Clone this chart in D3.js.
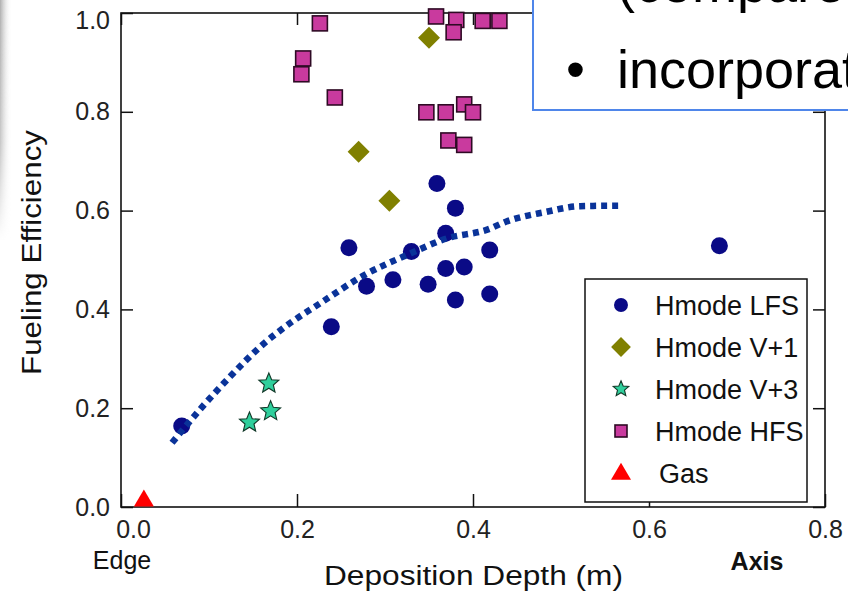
<!DOCTYPE html>
<html>
<head>
<meta charset="utf-8">
<script src="https://cdn.jsdelivr.net/npm/d3@7"></script>
<style>
  html, body { margin: 0; padding: 0; background: #fff; }
  svg { display: block; }
  text { font-family: "Liberation Sans", Arial, Helvetica, sans-serif; }
</style>
</head>
<body>
<svg id="chart" width="848" height="592"></svg>
<script>
// Fueling efficiency vs. pellet deposition depth

const xTicks = [0.0, 0.2, 0.4, 0.6, 0.8];
const yTicks = [0.0, 0.2, 0.4, 0.6, 0.8, 1.0];

// Hmode LFS (navy circles)
const lfsX = [0.359, 0.380, 0.259, 0.369, 0.330, 0.419, 0.369, 0.390, 0.309, 0.279, 0.349, 0.380, 0.419, 0.239, 0.069, 0.680];
const lfsY = [0.655, 0.605, 0.525, 0.554, 0.517, 0.520, 0.483, 0.486, 0.460, 0.447, 0.451, 0.419, 0.431, 0.365, 0.164, 0.529];

// Hmode V+1 (olive diamonds)
const v1X = [0.350, 0.270, 0.305];
const v1Y = [0.950, 0.719, 0.620];

// Hmode V+3 (green stars)
const v3X = [0.168, 0.170, 0.146];
const v3Y = [0.250, 0.194, 0.171];

// Hmode HFS (magenta squares)
const hfsX = [0.226, 0.207, 0.205, 0.243, 0.358, 0.381, 0.378, 0.411, 0.430, 0.347, 0.369, 0.390, 0.400, 0.372, 0.390];
const hfsY = [0.979, 0.908, 0.876, 0.829, 0.993, 0.986, 0.961, 0.984, 0.984, 0.799, 0.799, 0.815, 0.799, 0.742, 0.733];

// Gas puff (red triangle)
const gasX = [0.026];
const gasY = [0.015];

// Trend curve through the LFS data
const fitX = [0.058, 0.090, 0.124, 0.158, 0.192, 0.226, 0.275, 0.330, 0.369, 0.417, 0.438, 0.482, 0.522, 0.565];
const fitY = [0.130, 0.198, 0.264, 0.324, 0.372, 0.412, 0.468, 0.514, 0.543, 0.562, 0.578, 0.597, 0.609, 0.610];

const legendLabels = ["Hmode LFS", "Hmode V+1", "Hmode V+3", "Hmode HFS", "Gas"];

const zip = (xs, ys) => xs.map((v, i) => ({x: v, y: ys[i]}));

const svg = d3.select("#chart");
const defs = svg.append("defs");

// soft grey shading along the left edge
const gh = defs.append("linearGradient").attr("id", "edgeH").attr("x1", 0).attr("x2", 1).attr("y1", 0).attr("y2", 0);
gh.append("stop").attr("offset", "0%").attr("stop-color", "#9a9a9a").attr("stop-opacity", 0.8);
gh.append("stop").attr("offset", "100%").attr("stop-color", "#ffffff").attr("stop-opacity", 0);
const gv = defs.append("linearGradient").attr("id", "edgeV").attr("x1", 0).attr("x2", 0).attr("y1", 0).attr("y2", 1);
gv.append("stop").attr("offset", "0%").attr("stop-color", "#fff").attr("stop-opacity", 1);
gv.append("stop").attr("offset", "60%").attr("stop-color", "#fff").attr("stop-opacity", 0.7);
gv.append("stop").attr("offset", "100%").attr("stop-color", "#fff").attr("stop-opacity", 0);
defs.append("mask").attr("id", "edgeMask")
  .append("rect").attr("x", 0).attr("y", 0).attr("width", 12).attr("height", 240).attr("fill", "url(#edgeV)");
svg.append("rect").attr("x", 0).attr("y", 0).attr("width", 12).attr("height", 240)
  .attr("fill", "url(#edgeH)").attr("mask", "url(#edgeMask)");

const x = d3.scaleLinear().domain([0, 0.8]).range([121, 825]);
const y = d3.scaleLinear().domain([0, 1]).range([507, 13]);

const fmt = d3.format(".1f");

// axes with inward ticks
const gLeft = svg.append("g").attr("transform", `translate(${x(0)},0)`)
  .call(d3.axisLeft(y).tickValues(yTicks).tickFormat(fmt).tickSize(-12).tickPadding(11));
const gBottom = svg.append("g").attr("transform", `translate(0,${y(0)})`)
  .call(d3.axisBottom(x).tickValues(xTicks).tickFormat(fmt).tickSize(-13).tickPadding(13));
const gTop = svg.append("g").attr("transform", `translate(0,${y(1)})`)
  .call(d3.axisTop(x).tickValues(xTicks).tickFormat("").tickSize(-12));
const gRight = svg.append("g").attr("transform", `translate(${x(0.8)},0)`)
  .call(d3.axisRight(y).tickValues(yTicks).tickFormat("").tickSize(-12));

[gLeft, gBottom, gTop, gRight].forEach(g => {
  g.select(".domain").remove();
  g.selectAll(".tick line").attr("stroke", "#111").attr("stroke-width", 1.5);
  g.selectAll(".tick text").attr("fill", "#222").attr("font-size", 25)
    .style("font-family", "'Liberation Sans', Arial, sans-serif");
});
// the corner labels sit slightly inside the frame
gBottom.selectAll(".tick").filter(d => d === 0).select("text").attr("dx", 12);
gLeft.selectAll(".tick").filter(d => d === 1).select("text").attr("dy", "0.6em");

// plot frame
svg.append("rect")
  .attr("x", x(0)).attr("y", y(1))
  .attr("width", x(0.8) - x(0)).attr("height", y(0) - y(1))
  .attr("fill", "none").attr("stroke", "#111").attr("stroke-width", 1.6);

// axis titles
svg.append("text").attr("x", 122).attr("y", 569).attr("text-anchor", "middle")
  .attr("font-size", 25).attr("fill", "#111").text("Edge");
svg.append("text").attr("x", 757).attr("y", 570).attr("text-anchor", "middle")
  .attr("font-size", 25).attr("font-weight", "bold").attr("fill", "#111").text("Axis");
svg.append("text").attr("x", 324).attr("y", 585)
  .attr("font-size", 27).attr("fill", "#111")
  .attr("textLength", 299).attr("lengthAdjust", "spacingAndGlyphs")
  .text("Deposition Depth (m)");
svg.append("text").attr("transform", "translate(41,375) rotate(-90)")
  .attr("font-size", 27).attr("fill", "#111")
  .attr("textLength", 245).attr("lengthAdjust", "spacingAndGlyphs")
  .text("Fueling Efficiency");

// marker shapes
const starPath = (r) => {
  const pts = [];
  for (let i = 0; i < 10; i++) {
    const a = -Math.PI / 2 + i * Math.PI / 5;
    const rr = i % 2 === 0 ? r : r * 0.45;
    pts.push([rr * Math.cos(a), rr * Math.sin(a)]);
  }
  return "M" + pts.map(p => p.join(",")).join("L") + "Z";
};
const triPath = (w, h) => `M0,${-h * 0.6}L${w / 2},${h * 0.4}L${-w / 2},${h * 0.4}Z`;
const diamondPath = (r) => `M0,${-r}L${r},0L0,${r}L${-r},0Z`;

const marks = {
  lfs: (g, s) => g.append("circle").attr("r", 8.5 * s).attr("fill", "#0a0a86"),
  v1: (g, s) => g.append("path").attr("d", diamondPath(11 * s)).attr("fill", "#808000"),
  v3: (g, s) => g.append("path").attr("d", starPath(10.5 * s)).attr("fill", "#2fcf9c")
    .attr("stroke", "#123828").attr("stroke-width", 1.1),
  hfs: (g, s) => g.append("rect").attr("x", -7.5 * s).attr("y", -7.5 * s)
    .attr("width", 15 * s).attr("height", 15 * s).attr("fill", "#c93a9e")
    .attr("stroke", "#2e0a24").attr("stroke-width", 1.6),
  gas: (g, s) => g.append("path").attr("d", triPath(20 * s, 17 * s)).attr("fill", "#ff0000")
};

function drawSeries(data, kind) {
  const g = svg.append("g");
  data.forEach(d => {
    const m = g.append("g").attr("transform", `translate(${x(d.x)},${y(d.y)})`);
    marks[kind](m, 1);
  });
}

drawSeries(zip(lfsX, lfsY), "lfs");
drawSeries(zip(v1X, v1Y), "v1");
drawSeries(zip(v3X, v3Y), "v3");
drawSeries(zip(hfsX, hfsY), "hfs");
drawSeries(zip(gasX, gasY), "gas");

// dotted trend curve
svg.append("path")
  .datum(zip(fitX, fitY))
  .attr("fill", "none")
  .attr("stroke", "#0a3399")
  .attr("stroke-width", 6.5)
  .attr("stroke-dasharray", "6 5")
  .attr("d", d3.line().x(d => x(d.x)).y(d => y(d.y)).curve(d3.curveMonotoneX));

// legend
const legend = svg.append("g");
legend.append("rect").attr("x", 585).attr("y", 279).attr("width", 222).attr("height", 223)
  .attr("fill", "#fff").attr("stroke", "#111").attr("stroke-width", 1.5);
const legendKinds = ["lfs", "v1", "v3", "hfs", "gas"];
const legendScale = [0.82, 0.9, 0.78, 0.8, 1.0];
const legendRowY = d3.scalePoint().domain(legendLabels).range([305, 473]);
legendLabels.forEach((lab, i) => {
  const cy = legendRowY(lab);
  const m = legend.append("g").attr("transform", `translate(621,${cy})`);
  marks[legendKinds[i]](m, legendScale[i]);
  legend.append("text").attr("x", lab === "Gas" ? 659 : 655).attr("y", cy + 10)
    .attr("font-size", 27).attr("fill", "#111").text(lab);
});

// overlapping slide text box
const box = svg.append("g");
box.append("rect").attr("x", 533).attr("y", -10).attr("width", 330).attr("height", 120)
  .attr("fill", "#fff").attr("stroke", "#4f86ea").attr("stroke-width", 2);
box.append("text").attr("x", 617).attr("y", 2).attr("font-size", 54).attr("fill", "#000")
  .text("(compared");
box.append("text").attr("x", 566).attr("y", 88).attr("font-size", 54).attr("fill", "#000").text("•");
box.append("text").attr("x", 617).attr("y", 88).attr("font-size", 54).attr("fill", "#000")
  .text("incorporate");
</script>
</body>
</html>
